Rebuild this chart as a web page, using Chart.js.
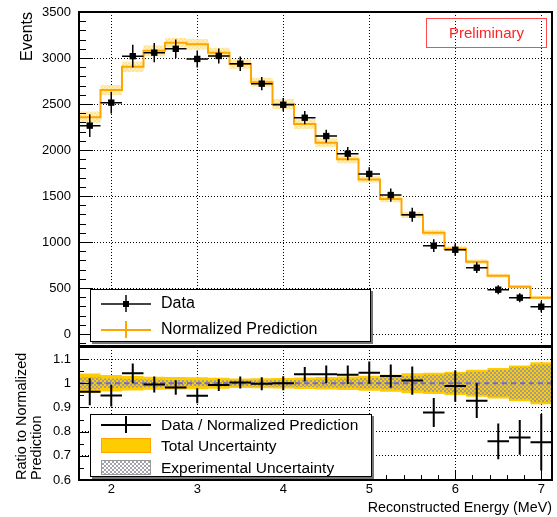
<!DOCTYPE html>
<html>
<head>
<meta charset="utf-8">
<script src="https://cdn.jsdelivr.net/npm/chart.js@4.4.0/dist/chart.umd.min.js"></script>
<style>
  body { margin: 0; background: #fff; font-family: 'Liberation Sans', Arial, sans-serif; }
  #wrap { position: relative; width: 557px; height: 517px; overflow: hidden; }
  canvas { position: absolute; left: 0; }
  #topChart { top: 0; }
  #ratioChart { top: 346px; }
  .legend { position: absolute; box-sizing: border-box; background: #fff; border: 1px solid #000; box-shadow: 2px 2px 0 #777; }
  .txt { position: absolute; left: 70px; height: 20px; line-height: 20px; white-space: nowrap; color: #000; }
  .sw { position: absolute; }
  #prelim { position: absolute; left: 426px; top: 18px; width: 121px; height: 30px; box-sizing: border-box;
            border: 1px solid #ff4a4a; color: #ff2222; font-size: 15px; text-align: center; line-height: 28px; }
</style>
</head>
<body>
<div id="wrap">
  <canvas id="topChart" width="557" height="347"></canvas>
  <canvas id="ratioChart" width="557" height="171"></canvas>

  <div id="prelim">Preliminary</div>

  <div class="legend" style="left:90px; top:289px; width:281px; height:53px;">
    <div class="sw" style="left:10px; top:13px; width:50px; height:1.5px; background:#444;"></div>
    <div class="sw" style="left:34px; top:5px; width:1.5px; height:17px; background:#444;"></div>
    <div class="sw" style="left:32px; top:11px; width:6px; height:6px; background:#000;"></div>
    <div class="txt" style="top:3px; font-size:16px;">Data</div>
    <div class="sw" style="left:10px; top:39px; width:50px; height:1.5px; background:#FFA500;"></div>
    <div class="sw" style="left:34px; top:31px; width:1.5px; height:17px; background:#FFA500;"></div>
    <div class="txt" style="top:29px; font-size:16px;">Normalized Prediction</div>
  </div>

  <div class="legend" style="left:90px; top:414px; width:282px; height:63px;">
    <div class="sw" style="left:10px; top:9px; width:50px; height:1.5px; background:#000;"></div>
    <div class="sw" style="left:34px; top:1px; width:1.5px; height:17px; background:#000;"></div>
    <div class="txt" style="top:0px; font-size:15.5px;">Data / Normalized Prediction</div>
    <div class="sw" style="left:10px; top:23px; width:50px; height:15px; box-sizing:border-box; background:#FFCC00; border:1px solid #FFA500;"></div>
    <div class="txt" style="top:21px; font-size:15.5px;">Total Uncertainty</div>
    <div class="sw" style="left:10px; top:45px; width:50px; height:15px; box-sizing:border-box; border:1px solid #999;
         background: repeating-conic-gradient(#a4a4ae 0 25%, #fff 0 50%) 0 0 / 4px 4px;"></div>
    <div class="txt" style="top:43px; font-size:15.5px;">Experimental Uncertainty</div>
  </div>
</div>

<script>
// bin centres (MeV), 0.25 MeV wide bins
const energy = [1.75, 2.0, 2.25, 2.5, 2.75, 3.0, 3.25, 3.5, 3.75, 4.0, 4.25,
                4.5, 4.75, 5.0, 5.25, 5.5, 5.75, 6.0, 6.25, 6.5, 6.75, 7.0];
const binHalf = 0.125;

// top panel
const dataEvents = [2265, 2515, 3020, 3058, 3100, 2990, 3022, 2938, 2721, 2492, 2351,
                    2152, 1960, 1740, 1511, 1297, 960, 916, 721, 482, 395, 297];
const dataErr = [123, 118, 123, 105, 100, 92, 82, 78, 72, 72, 72,
                 69, 72, 72, 72, 76, 69, 69, 58, 49, 49, 60];
const prediction = [2355, 2652, 2905, 3079, 3166, 3149, 3058, 2935, 2736, 2500, 2283,
                    2080, 1899, 1680, 1467, 1293, 1101, 927, 786, 634, 514, 395];
const predBand = [63, 54, 58, 60, 51, 58, 54, 52, 49, 54, 54,
                  48, 42, 34, 34, 32, 31, 28, 24, 22, 20, 18];

// ratio panel
const ratio = [0.965, 0.949, 1.041, 0.995, 0.983, 0.948, 0.993, 1.003, 0.998, 1.0, 1.037,
               1.037, 1.035, 1.044, 1.03, 1.011, 0.879, 0.989, 0.928, 0.76, 0.776, 0.756];
const ratioErr = [0.056, 0.045, 0.041, 0.033, 0.03, 0.031, 0.025, 0.025, 0.027, 0.029, 0.03,
                  0.036, 0.038, 0.046, 0.048, 0.058, 0.06, 0.065, 0.072, 0.074, 0.072, 0.117];
const totUnc = [0.04, 0.034, 0.03, 0.027, 0.026, 0.025, 0.023, 0.02, 0.021, 0.022, 0.024,
                0.026, 0.028, 0.031, 0.035, 0.041, 0.044, 0.048, 0.056, 0.063, 0.074, 0.087];
const expUnc = [0.025, 0.02, 0.018, 0.016, 0.014, 0.012, 0.012, 0.012, 0.013, 0.014, 0.015,
                0.017, 0.019, 0.022, 0.025, 0.03, 0.035, 0.041, 0.048, 0.055, 0.066, 0.078];

// axis ticks
const eventTicks = [0, 500, 1000, 1500, 2000, 2500, 3000, 3500];
const ratioTicks = [0.6, 0.7, 0.8, 0.9, 1.0, 1.1];
const energyTicks = [2, 3, 4, 5, 6, 7];

Chart.defaults.font.family = "'Liberation Sans', Arial, sans-serif";
Chart.defaults.color = '#000';

// histogram outline: points at lower bin edges + closing point
function steps(vals) {
  const pts = energy.map((e, i) => ({x: e - binHalf, y: vals[i]}));
  pts.push({x: energy[energy.length - 1] + binHalf, y: vals[vals.length - 1]});
  return pts;
}

// horizontal + vertical error bar segments, split with nulls
function errorBars(vals, errs) {
  const pts = [];
  energy.forEach((e, i) => {
    pts.push({x: e - binHalf, y: vals[i]}, {x: e + binHalf, y: vals[i]}, {x: e, y: null});
    pts.push({x: e, y: vals[i] - errs[i]}, {x: e, y: vals[i] + errs[i]}, {x: e, y: null});
  });
  return pts;
}

function checker(ctx, bg, fg, cell) {
  const cv = document.createElement('canvas');
  cv.width = cv.height = cell * 2;
  const g = cv.getContext('2d');
  if (bg) { g.fillStyle = bg; g.fillRect(0, 0, cell * 2, cell * 2); }
  g.fillStyle = fg;
  g.fillRect(0, 0, cell, cell);
  g.fillRect(cell, cell, cell, cell);
  return ctx.createPattern(cv, 'repeat');
}

// ROOT style frame with inward ticks
const frameTicks = {
  id: 'frameTicks',
  afterDatasetsDraw(chart, args, o) {
    const {ctx, chartArea: a, scales: {x, y}} = chart;
    ctx.save();
    ctx.strokeStyle = '#000';
    ctx.lineWidth = 1;
    ctx.beginPath();
    const yFrom = Math.ceil(y.min / o.yMinor), yTo = Math.floor(y.max / o.yMinor);
    for (let k = yFrom; k <= yTo; k++) {
      const v = k * o.yMinor;
      const p = Math.round(y.getPixelForValue(v)) + 0.5;
      const major = Math.abs(v / o.yMajor - Math.round(v / o.yMajor)) < 1e-6;
      ctx.moveTo(a.left, p);
      ctx.lineTo(a.left + (major ? o.yLen : o.yLen / 2), p);
    }
    if (o.xMinor) {
      const xFrom = Math.ceil(x.min / o.xMinor), xTo = Math.floor(x.max / o.xMinor);
      for (let k = xFrom; k <= xTo; k++) {
        const v = k * o.xMinor;
        const p = Math.round(x.getPixelForValue(v)) + 0.5;
        const major = Math.abs(v - Math.round(v)) < 1e-6;
        ctx.moveTo(p, a.bottom);
        ctx.lineTo(p, a.bottom - (major ? o.xLen : o.xLen / 2));
      }
    }
    ctx.stroke();
    ctx.lineWidth = 2;
    ctx.strokeRect(a.left, a.top, a.right - a.left, a.bottom - a.top);
    ctx.restore();
  }
};

const gridStyle = {color: '#000', lineWidth: 1, drawTicks: false};
const borderStyle = {display: false, dash: [1, 2]};

function fitY(s) { s.width = 79; s.paddingTop = 0; s.paddingBottom = 0; }
function fitX(h) { return s => { s.height = h; s.paddingLeft = 0; s.paddingRight = 0; }; }

const topCtx = document.getElementById('topChart').getContext('2d');
new Chart(topCtx, {
  type: 'line',
  data: {
    datasets: [
      {label: 'band up', data: steps(prediction.map((p, i) => p + predBand[i])), stepped: true,
       borderWidth: 0, pointRadius: 0, fill: false, order: 5},
      {label: 'band down', data: steps(prediction.map((p, i) => p - predBand[i])), stepped: true,
       borderWidth: 0, pointRadius: 0, fill: '-1',
       backgroundColor: checker(topCtx, 'rgba(255,226,130,0.85)', 'rgba(255,240,190,0.9)', 2), order: 5},
      {label: 'Normalized Prediction', data: steps(prediction), stepped: true,
       borderColor: '#FFA500', borderWidth: 2, pointRadius: 0, fill: false, order: 3},
      {label: 'Data errors', data: errorBars(dataEvents, dataErr), borderColor: '#000', borderWidth: 1.5,
       pointRadius: 0, spanGaps: false, fill: false, order: 2},
      {label: 'Data', data: energy.map((e, i) => ({x: e, y: dataEvents[i]})), showLine: false,
       pointStyle: 'rect', pointRadius: 4.5, backgroundColor: '#000', borderWidth: 0, order: 1}
    ]
  },
  options: {
    responsive: false,
    animation: false,
    layout: {autoPadding: false, padding: {left: 0, right: 5, top: 12, bottom: 1}},
    plugins: {
      legend: {display: false},
      tooltip: {enabled: false},
      frameTicks: {yMinor: 100, yMajor: 500, yLen: 14}
    },
    scales: {
      x: {
        type: 'linear', min: 1.625, max: 7.125,
        afterBuildTicks: s => { s.ticks = energyTicks.map(v => ({value: v})); },
        afterFit: fitX(0),
        ticks: {display: false},
        grid: gridStyle, border: borderStyle
      },
      y: {
        min: -130, max: 3500,
        afterBuildTicks: s => { s.ticks = eventTicks.map(v => ({value: v})); },
        afterFit: fitY,
        ticks: {font: {size: 13}, padding: 8, autoSkip: false, callback: v => String(v)},
        grid: gridStyle, border: borderStyle,
        title: {display: true, text: 'Events', align: 'end', font: {size: 16}, padding: {top: 18, bottom: 0}}
      }
    }
  },
  plugins: [frameTicks]
});

const ratioCtx = document.getElementById('ratioChart').getContext('2d');
new Chart(ratioCtx, {
  type: 'line',
  data: {
    datasets: [
      {label: 'tot up', data: steps(ratio.map((r, i) => 1 + totUnc[i])), stepped: true,
       borderWidth: 0, pointRadius: 0, fill: false, order: 6},
      {label: 'Total Uncertainty', data: steps(ratio.map((r, i) => 1 - totUnc[i])), stepped: true,
       borderWidth: 0, pointRadius: 0, fill: '-1', backgroundColor: '#FFCC00', order: 6},
      {label: 'exp up', data: steps(ratio.map((r, i) => 1 + expUnc[i])), stepped: true,
       borderWidth: 0, pointRadius: 0, fill: false, order: 5},
      {label: 'Experimental Uncertainty', data: steps(ratio.map((r, i) => 1 - expUnc[i])), stepped: true,
       borderWidth: 0, pointRadius: 0, fill: '-1',
       backgroundColor: checker(ratioCtx, null, 'rgba(150,150,168,0.9)', 2), order: 5},
      {label: 'unity', data: steps(ratio.map(() => 1)), borderColor: '#6a6ad2', borderWidth: 2,
       borderDash: [5, 4], pointRadius: 0, fill: false, order: 3},
      {label: 'Data / Normalized Prediction', data: errorBars(ratio, ratioErr), borderColor: '#000',
       borderWidth: 2, pointRadius: 0, spanGaps: false, fill: false, order: 1}
    ]
  },
  options: {
    responsive: false,
    animation: false,
    layout: {autoPadding: false, padding: {left: 0, right: 5, top: 1, bottom: 0}},
    plugins: {
      legend: {display: false},
      tooltip: {enabled: false},
      frameTicks: {yMinor: 0.05, yMajor: 0.1, yLen: 10, xMinor: 0.2, xLen: 10}
    },
    scales: {
      x: {
        type: 'linear', min: 1.625, max: 7.125,
        afterBuildTicks: s => { s.ticks = energyTicks.map(v => ({value: v})); },
        afterFit: fitX(37),
        ticks: {font: {size: 13}, padding: 2, maxRotation: 0, autoSkip: false},
        grid: gridStyle, border: borderStyle,
        title: {display: true, text: 'Reconstructed Energy (MeV)', align: 'end', font: {size: 14.3},
                padding: {top: 0, bottom: 0}}
      },
      y: {
        min: 0.6, max: 1.15,
        afterBuildTicks: s => { s.ticks = ratioTicks.map(v => ({value: v})); },
        afterFit: fitY,
        ticks: {font: {size: 13}, padding: 8, autoSkip: false,
                callback: v => (Math.abs(v - 1) < 1e-9 ? '1' : v.toFixed(1))},
        grid: gridStyle, border: borderStyle,
        title: {display: true, text: ['Ratio to Normalized', 'Prediction'], align: 'start',
                font: {size: 14.5, lineHeight: 1.07}, padding: {top: 14, bottom: 0}}
      }
    }
  },
  plugins: [frameTicks]
});
</script>
</body>
</html>
